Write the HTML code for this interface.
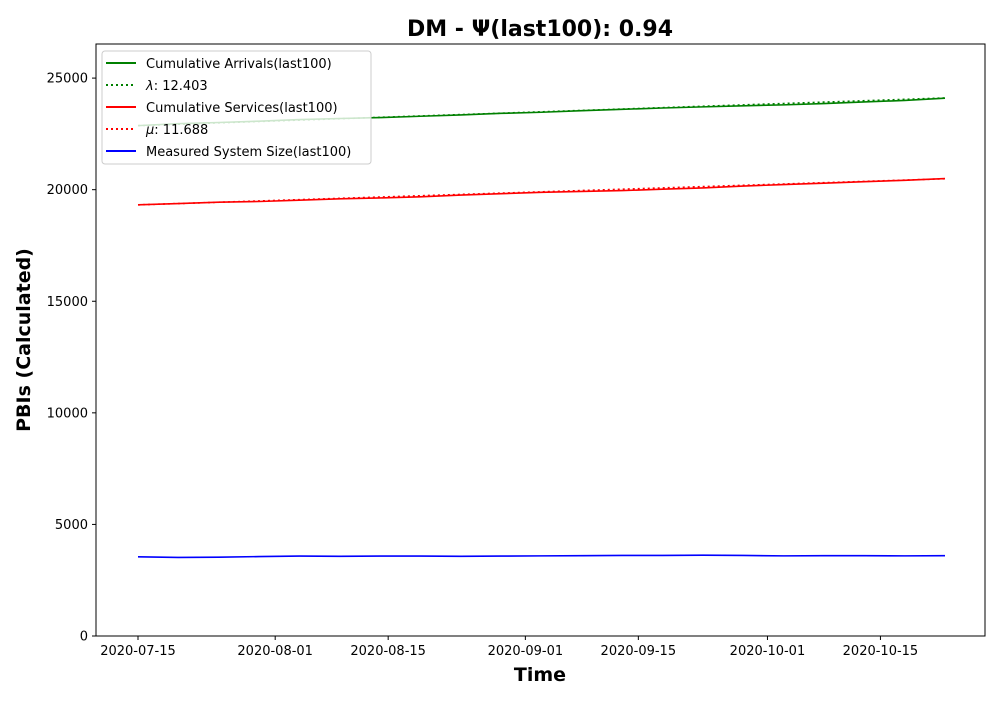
<!DOCTYPE html>
<html><head><meta charset="utf-8"><style>
body{margin:0;background:#fff;font-family:"Liberation Sans","DejaVu Sans",sans-serif}
svg text{font-family:"DejaVu Sans","Liberation Sans",sans-serif}
</style></head><body>
<svg id="chart" width="1000" height="700" xmlns="http://www.w3.org/2000/svg">
<rect width="1000" height="700" fill="#fff"/>
<text x="540" y="36" text-anchor="middle" font-size="22" font-weight="bold">DM -  Ψ(last100): 0.94</text>
<g id="plot"></g>
<rect x="96" y="44" width="889" height="592" fill="none" stroke="#000" stroke-width="1"/>
<text x="540" y="681" text-anchor="middle" font-size="19" font-weight="bold">Time</text>
<text transform="translate(30,340) rotate(-90)" text-anchor="middle" font-size="19" font-weight="bold">PBIs (Calculated)</text>
<g>
<rect x="102" y="51" width="269" height="113" rx="3" fill="#fff" fill-opacity="0.8" stroke="#ccc"/>
<line x1="106" y1="63" x2="136" y2="63" stroke="green" stroke-width="2"/>
<text x="146" y="68" font-size="13">Cumulative Arrivals(last100)</text>
<line x1="106" y1="85" x2="136" y2="85" stroke="green" stroke-width="2" stroke-dasharray="2,3"/>
<text x="146" y="90" font-size="13"><tspan font-style="italic">λ</tspan>: 12.403</text>
<line x1="106" y1="107" x2="136" y2="107" stroke="red" stroke-width="2"/>
<text x="146" y="112" font-size="13">Cumulative Services(last100)</text>
<line x1="106" y1="129" x2="136" y2="129" stroke="red" stroke-width="2" stroke-dasharray="2,3"/>
<text x="146" y="134" font-size="13"><tspan font-style="italic">μ</tspan>: 11.688</text>
<line x1="106" y1="151" x2="136" y2="151" stroke="blue" stroke-width="2"/>
<text x="146" y="156" font-size="13">Measured System Size(last100)</text>
</g>
</svg>
<script>
const days = [0,5,10,15,20,25,30,35,40,45,50,55,60,65,70,75,80,85,90,95,100];
const arrivals = [22870,22960,23010,23070,23140,23190,23230,23290,23350,23420,23470,23540,23600,23660,23710,23760,23800,23860,23930,24000,24100];
const services = [19320,19380,19440,19470,19530,19590,19630,19680,19760,19820,19880,19920,19960,20020,20080,20160,20230,20290,20360,20420,20500];
const sysSize = [3550,3520,3530,3560,3580,3570,3580,3580,3570,3580,3590,3600,3610,3610,3620,3610,3590,3600,3600,3590,3600];
const lambda = 12.403;
const mu = 11.688;
const yTicks = [0,5000,10000,15000,20000,25000];
const xTickDays = [0,17,31,48,62,78,92];
const xTickLabels = ["2020-07-15","2020-08-01","2020-08-15","2020-09-01","2020-09-15","2020-10-01","2020-10-15"];

const NS="http://www.w3.org/2000/svg";
const X=d=>138+d*8.07;
const Y=v=>636-v*0.022316;
const plot=document.getElementById('plot');
function mk(t,a){const e=document.createElementNS(NS,t);for(const k in a)e.setAttribute(k,a[k]);plot.appendChild(e);return e;}
yTicks.forEach(v=>{
  const l=mk('line',{x1:92,x2:96,y1:Y(v),y2:Y(v),stroke:'#000'});
  
  
  const t=mk('text',{x:88,y:Y(v)+4.5,'text-anchor':'end','font-size':13});t.textContent=v;
  
  
});
xTickDays.forEach((d,i)=>{
  const l=mk('line',{x1:X(d),x2:X(d),y1:636,y2:640,stroke:'#000'});
  
  
  const t=mk('text',{x:X(d),y:655,'text-anchor':'middle','font-size':13});t.textContent=xTickLabels[i];
  
  
});
function line(vals,color,name,dash){
  const p=mk('polyline',{points:vals.map((v,i)=>X(days[i])+','+Y(v)).join(' '),fill:'none',stroke:color,'stroke-width':1.6});
  if(dash)p.setAttribute('stroke-dasharray',dash);
  
  
}
line(arrivals,'green','arrivals-line');
line(days.map(d=>arrivals[0]+lambda*d),'green','lambda-fit-line','2,3');
line(services,'red','services-line');
line(days.map(d=>services[0]+mu*d),'red','mu-fit-line','2,3');
line(sysSize,'blue','system-size-line');
</script>
</body></html>
